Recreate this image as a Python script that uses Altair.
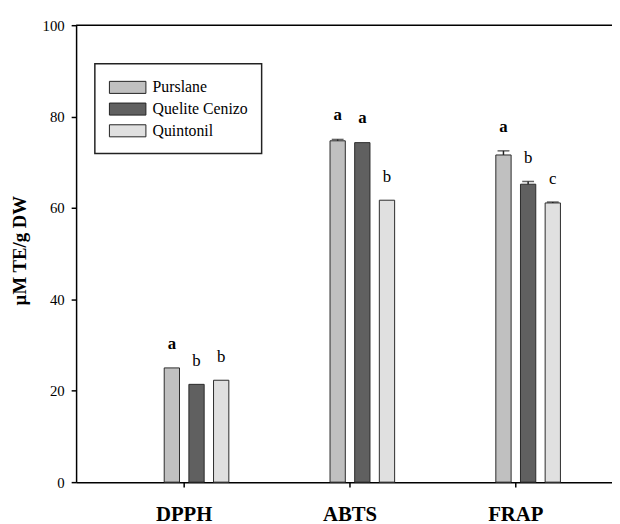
import altair as alt
import pandas as pd

assays = ["DPPH", "ABTS", "FRAP"]
plants = ["Purslane", "Quelite Cenizo", "Quintonil"]
colors = ["#c0c0c0", "#606060", "#e0e0e0"]

purslane = [25.0, 74.7, 71.6]
quelite = [21.4, 74.3, 65.2]
quintonil = [22.3, 61.7, 61.1]

purslane_err = [0.0, 0.3, 0.9]
quelite_err = [0.0, 0.0, 0.6]
quintonil_err = [0.0, 0.0, 0.2]

purslane_sig = ["a", "a", "a"]
quelite_sig = ["b", "a", "b"]
quintonil_sig = ["b", "b", "c"]

y_ticks = [0, 20, 40, 60, 80, 100]

rows = []
for plant, vals, errs, sigs in [
    ("Purslane", purslane, purslane_err, purslane_sig),
    ("Quelite Cenizo", quelite, quelite_err, quelite_sig),
    ("Quintonil", quintonil, quintonil_err, quintonil_sig),
]:
    for a, v, e, s in zip(assays, vals, errs, sigs):
        rows.append({"assay": a, "plant": plant, "value": v, "err": e,
                     "top": v + e, "sig": s, "bold": s == "a"})
df = pd.DataFrame(rows)

W, H = 543, 463
SERIF = "Liberation Serif"

x_enc = alt.X(
    "assay:N", sort=assays,
    scale=alt.Scale(paddingInner=0.405, paddingOuter=0.3186, align=0.673),
    axis=alt.Axis(title=None, labelAngle=0, labelFont=SERIF, labelFontSize=21,
                  labelFontWeight="bold", labelColor="black", tickOffset=-13,
                  tickSize=5, labelPadding=17, domainColor="black", domainWidth=1.5,
                  tickColor="black", tickWidth=1.5),
)
xo_enc = alt.XOffset("plant:N", sort=plants,
                     scale=alt.Scale(paddingInner=0.38, paddingOuter=0.69))
y_scale = alt.Scale(domain=[0, 100], nice=False)

base = alt.Chart(df)

bars = base.mark_bar(stroke="#2a2a2a", strokeWidth=1).encode(
    x=x_enc, xOffset=xo_enc,
    y=alt.Y("value:Q", scale=y_scale,
            axis=alt.Axis(values=y_ticks, title="µM TE/g DW", titleFont=SERIF,
                          titleFontSize=19, titleFontWeight="bold", titleColor="black",
                          titleBaseline="middle", titleX=-57, titleY=228,
                          labelFont=SERIF, labelFontSize=15, labelColor="black",
                          tickSize=5, labelPadding=7, domainColor="black",
                          domainWidth=1.5, tickColor="black", tickWidth=1.5,
                          grid=False)),
    color=alt.Color("plant:N", sort=plants,
                    scale=alt.Scale(domain=plants, range=colors),
                    legend=alt.Legend(
                        title=None, orient="none", legendX=19, legendY=39,
                        strokeColor="#222", fillColor="white",
                        padding=14, rowPadding=3, labelFont=SERIF, labelFontSize=16,
                        labelColor="black", labelOffset=24.5,
                        symbolType="M-1,-0.66H3V0.66H-1Z", symbolSize=342,
                        symbolStrokeColor="#222", symbolStrokeWidth=1,
                        symbolOpacity=1)),
)

errdf = base.transform_filter(alt.datum.err > 0)
err_rule = errdf.mark_rule(color="#222", strokeWidth=1.5).encode(
    x=x_enc, xOffset=xo_enc, y=alt.Y("value:Q", scale=y_scale), y2="top:Q")
err_cap = errdf.mark_tick(color="#222", thickness=1.5, size=12, orient="horizontal").encode(
    x=x_enc, xOffset=xo_enc, y=alt.Y("top:Q", scale=y_scale))

txt_bold = base.transform_filter(alt.datum.bold).mark_text(
    font=SERIF, fontSize=17, fontWeight="bold", dy=-24.5, baseline="middle",
    color="black").encode(x=x_enc, xOffset=xo_enc,
                          y=alt.Y("top:Q", scale=y_scale), text="sig:N")
txt_norm = base.transform_filter(~alt.datum.bold).mark_text(
    font=SERIF, fontSize=17, dy=-23.5, baseline="middle",
    color="black").encode(x=x_enc, xOffset=xo_enc,
                          y=alt.Y("top:Q", scale=y_scale), text="sig:N")

top_line = alt.Chart(pd.DataFrame({"k": [0]})).mark_rule(
    color="black", strokeWidth=1.5).encode(
    x=alt.value(0), x2=alt.value(W), y=alt.value(0))

chart = alt.layer(bars, err_rule, err_cap, txt_bold, txt_norm, top_line).properties(
    width=W, height=H,
    padding={"left": 69, "top": 14, "right": 0, "bottom": 40},
    autosize=alt.AutoSizeParams(type="none"),
).configure_view(stroke=None).configure_legend(strokeWidth=1.5)

chart.save("out.html", embed_options={"renderer": "svg", "actions": False})
